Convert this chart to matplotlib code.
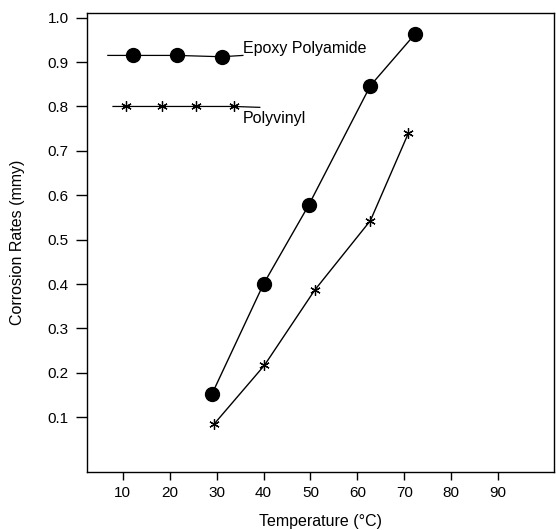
import matplotlib
matplotlib.use("Agg")
import matplotlib.pyplot as plt

plt.rcParams['font.family'] = ['Liberation Sans', 'DejaVu Sans']

# measured series
temp_epoxy = [29, 40, 49.6, 62.8, 72.3]
rate_epoxy = [0.152, 0.40, 0.577, 0.847, 0.963]
temp_vinyl = [29.5, 40.2, 50.9, 62.8, 70.9]
rate_vinyl = [0.085, 0.217, 0.386, 0.543, 0.74]

# inline key lines
key_epoxy_x = [6.8, 12.1, 21.5, 31.1, 35.6]
key_epoxy_y = [0.915, 0.915, 0.915, 0.912, 0.915]
key_epoxy_marks = [1, 2, 3]
key_vinyl_x = [7.9, 10.6, 18.3, 25.6, 33.7, 39.2]
key_vinyl_y = [0.80, 0.80, 0.80, 0.80, 0.80, 0.798]
key_vinyl_marks = [1, 2, 3, 4]

xticks = [10, 20, 30, 40, 50, 60, 70, 80, 90]
yticks = [0.1, 0.2, 0.3, 0.4, 0.5, 0.6, 0.7, 0.8, 0.9, 1.0]

fig = plt.figure(figsize=(5.56, 5.30), dpi=100)
ax = fig.add_axes([0.156, 0.109, 0.84, 0.866])

star = (6, 2, 0)
ax.plot(temp_epoxy, rate_epoxy, color='black', lw=1.0, marker='o', ms=10)
ax.plot(temp_vinyl, rate_vinyl, color='black', lw=1.0, marker=star, ms=7.5, mew=0.9)

ax.plot(key_epoxy_x, key_epoxy_y, color='black', lw=0.9, marker='o', ms=10,
        markevery=key_epoxy_marks)
ax.plot(key_vinyl_x, key_vinyl_y, color='black', lw=0.9, marker=star, ms=7.5, mew=0.9,
        markevery=key_vinyl_marks)

ax.text(35.6, 0.930, 'Epoxy Polyamide', fontsize=11.5, va='center', ha='left')
ax.text(35.6, 0.772, 'Polyvinyl', fontsize=11.5, va='center', ha='left')

ax.set_xlim(2.3, 101.9)
ax.set_ylim(-0.024, 1.01)
ax.set_xticks(xticks)
ax.set_yticks(yticks)
ax.set_xticklabels([str(t) for t in xticks])
ax.set_yticklabels(['%.1f' % t for t in yticks])
ax.tick_params(axis='y', direction='out', length=8, width=1, pad=5, labelsize=11)
ax.tick_params(axis='x', direction='out', length=6, width=1, pad=4, labelsize=11)
for s in ax.spines.values():
    s.set_linewidth(1.0)

ax.set_xlabel('Temperature (°C)', fontsize=11.5, labelpad=10)
ax.set_ylabel('Corrosion Rates (mmy)', fontsize=11.5, labelpad=16)

fig.savefig('out.png', dpi=100)
